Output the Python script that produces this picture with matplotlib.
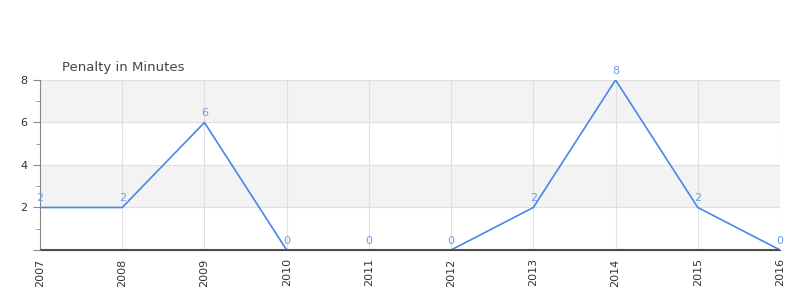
import matplotlib
matplotlib.use("Agg")
import matplotlib.pyplot as plt
from matplotlib.ticker import MultipleLocator

years = ["2007", "2008", "2009", "2010", "2011", "2012", "2013", "2014", "2015", "2016"]
penalty = [2, 2, 6, 0, 0, 0, 2, 8, 2, 0]
y_ticks = [2, 4, 6, 8]
title = "Penalty in Minutes"

fig = plt.figure(figsize=(8, 3), dpi=100)
ax = fig.add_axes([0.05, 0.1667, 0.925, 0.5667])
x = list(range(len(years)))

# alternating bands
for lo, hi, c in [(0, 2, "white"), (2, 4, "#f3f3f3"), (4, 6, "white"), (6, 8, "#f3f3f3")]:
    ax.axhspan(lo, hi, color=c, zorder=0, lw=0)

ax.set_xlim(0, len(years) - 1)
ax.set_ylim(0, 8)
for xi in x:
    ax.axvline(xi, color="#e0e0e0", lw=0.8, zorder=1)
for yv in y_ticks:
    ax.axhline(yv, color="#e0e0e0", lw=0.8, zorder=1)

ax.plot(x, penalty, color="#4a86e8", lw=1.2, zorder=3)
ax.axhline(0.03, color="#cc2222", lw=0.8, zorder=4)

for xi, v in zip(x, penalty):
    ax.text(xi, v + 0.2, str(v), ha="center", va="bottom", fontsize=8,
            color="#6f9be8", zorder=5)

ax.set_xticks(x)
ax.set_xticklabels(years, rotation=90, fontsize=8, color="#333333")
ax.set_yticks([0] + y_ticks)
ax.set_yticklabels([""] + [str(t) for t in y_ticks], fontsize=8, color="#333333")
ax.yaxis.set_minor_locator(MultipleLocator(1))
ax.tick_params(axis="y", which="major", length=5, color="#888888", pad=4)
ax.tick_params(axis="y", which="minor", length=3, color="#888888")
ax.tick_params(axis="x", length=0, pad=6)

for s in ["top", "right"]:
    ax.spines[s].set_visible(False)
ax.spines["left"].set_color("#888888")
ax.spines["bottom"].set_color("#444444")
ax.spines["bottom"].set_zorder(2)

fig.text(62 / 800, 1 - 67 / 300, title, fontsize=9.5, color="#444444", ha="left", va="center")

fig.savefig("out.png", dpi=100, facecolor="white")
